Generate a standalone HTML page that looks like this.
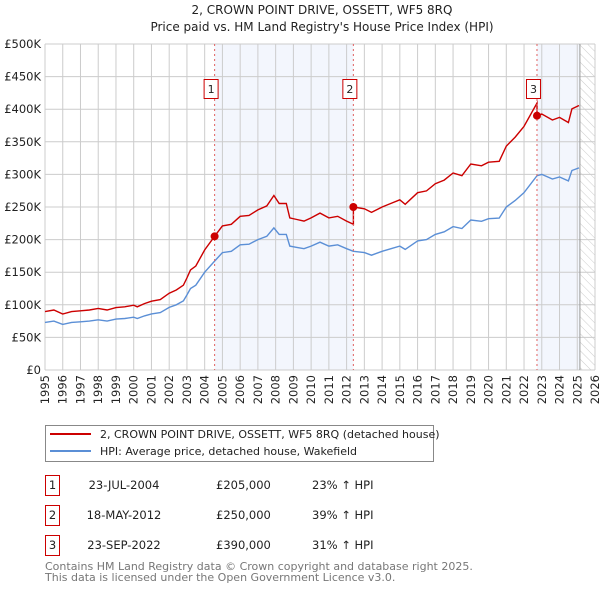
<!DOCTYPE html>
<html><head><meta charset="utf-8"><style>
body{margin:0;background:#fff;font-family:"Liberation Sans","DejaVu Sans",sans-serif;}
svg text{font-family:"DejaVu Sans","Liberation Sans",sans-serif;}
</style></head><body>
<svg id="c" width="600" height="590" xmlns="http://www.w3.org/2000/svg">
<text x="322" y="14" text-anchor="middle" font-size="12" fill="#222">2, CROWN POINT DRIVE, OSSETT, WF5 8RQ</text>
<text x="322" y="31" text-anchor="middle" font-size="12" fill="#222">Price paid vs. HM Land Registry's House Price Index (HPI)</text>
<defs><pattern id="h" width="6" height="6" patternUnits="userSpaceOnUse" patternTransform="rotate(-45)"><line x1="0" y1="0" x2="0" y2="6" stroke="#ccc" stroke-width="1"/></pattern></defs>
<g id="bg"></g><g id="grid"></g><g id="lines"></g><g id="marks"></g><g id="axes"></g>
<g>
<rect x="45.5" y="425.5" width="388" height="36" fill="#fff" stroke="#888"/>
<line x1="50" y1="434" x2="91" y2="434" stroke="#cc0000" stroke-width="2"/>
<text x="100" y="438" font-size="11" fill="#222">2, CROWN POINT DRIVE, OSSETT, WF5 8RQ (detached house)</text>
<line x1="50" y1="451" x2="91" y2="451" stroke="#5b8fd6" stroke-width="2"/>
<text x="100" y="455" font-size="11" fill="#222">HPI: Average price, detached house, Wakefield</text>
</g>
<g id="table" font-size="11.5" fill="#222"></g>
<text x="45" y="570" font-size="11" fill="#777">Contains HM Land Registry data © Crown copyright and database right 2025.</text>
<text x="45" y="581" font-size="11" fill="#777">This data is licensed under the Open Government Licence v3.0.</text>
</svg>
<script>
const hpiYears=[1995,1995.5,1996,1996.5,1997,1997.5,1998,1998.5,1999,1999.5,2000,2000.2,2000.6,2001,2001.5,2002,2002.4,2002.8,2003,2003.2,2003.5,2004,2004.56,2005,2005.5,2006,2006.5,2007,2007.5,2007.9,2008.2,2008.6,2008.8,2009.2,2009.6,2010,2010.5,2011,2011.5,2012,2012.38,2013,2013.4,2014,2014.5,2015,2015.3,2016,2016.5,2017,2017.5,2018,2018.5,2019,2019.6,2020,2020.6,2021,2021.5,2022,2022.73,2023,2023.6,2024,2024.5,2024.7,2025.1];
const hpiValues=[73,75,70,73,74,75,77,75,78,79,81,79,83,86,88,96,100,106,115,125,130,150,167,180,182,192,193,200,205,218,208,208,190,188,186,190,196,190,192,186,182,180,176,182,186,190,185,198,200,208,212,220,217,230,228,232,233,250,260,272,298,300,293,296,290,306,310];
const saleDates=[2004.56,2012.38,2022.73];
const salePrices=[205000,250000,390000];
const saleLabels=["1","2","3"];
const saleDateText=["23-JUL-2004","18-MAY-2012","23-SEP-2022"];
const salePriceText=["£205,000","£250,000","£390,000"];
const saleDiffText=["23% ↑ HPI","39% ↑ HPI","31% ↑ HPI"];
const yTicks=[0,50000,100000,150000,200000,250000,300000,350000,400000,450000,500000];
const yTickLabels=["£0","£50K","£100K","£150K","£200K","£250K","£300K","£350K","£400K","£450K","£500K"];
const xTicks=[1995,1996,1997,1998,1999,2000,2001,2002,2003,2004,2005,2006,2007,2008,2009,2010,2011,2012,2013,2014,2015,2016,2017,2018,2019,2020,2021,2022,2023,2024,2025,2026];
const dataEnd=2025.15;
const NS="http://www.w3.org/2000/svg";
const X0=45,X1=595,Y0=370,Y1=44;
const xs=v=>X0+(v-1995)/(2026-1995)*(X1-X0);
const ys=v=>Y0-v/500000*(Y0-Y1);
function mk(p,t,a){const e=document.createElementNS(NS,t);for(const k in a)e.setAttribute(k,a[k]);p.appendChild(e);return e;}
const bg=document.getElementById('bg'),grid=document.getElementById('grid'),lines=document.getElementById('lines'),marks=document.getElementById('marks'),axes=document.getElementById('axes'),table=document.getElementById('table');
for(let i=0;i<saleDates.length;i++){
 const s=saleDates[i],e=i+1<saleDates.length?saleDates[i+1]:dataEnd;
 if(i===1)continue;
 const r=mk(bg,'rect',{x:xs(s),y:Y1,width:xs(e)-xs(s),height:Y0-Y1,fill:'#f3f6fd'});
 
 
}
const hr=mk(bg,'rect',{x:xs(dataEnd),y:Y1,width:X1-xs(dataEnd),height:Y0-Y1,fill:'url(#h)'});


yTicks.forEach((v,i)=>{
 mk(grid,'line',{x1:X0,x2:X1,y1:ys(v),y2:ys(v),stroke:'#ccc','stroke-width':1});
 const t=mk(axes,'text',{x:X0-4,y:ys(v)+4,'text-anchor':'end','font-size':11.5,fill:'#222'});t.textContent=yTickLabels[i];
 
 
});
xTicks.forEach(v=>{
 mk(grid,'line',{x1:xs(v),x2:xs(v),y1:Y1,y2:Y0,stroke:'#ccc','stroke-width':1});
 const t=mk(axes,'text',{x:xs(v)+4,y:Y0+5,'text-anchor':'end','font-size':11.5,fill:'#222',transform:`rotate(-90 ${xs(v)+4} ${Y0+5})`});t.textContent=v;
 
 
});
mk(grid,'line',{x1:xs(dataEnd),x2:xs(dataEnd),y1:Y1,y2:Y0,stroke:'#999','stroke-width':1});
function hpiAt(d){for(let i=1;i<hpiYears.length;i++){if(d<=hpiYears[i]){const f=(d-hpiYears[i-1])/(hpiYears[i]-hpiYears[i-1]);return hpiValues[i-1]+f*(hpiValues[i]-hpiValues[i-1]);}}return hpiValues[hpiValues.length-1];}
const factors=saleDates.map((d,i)=>salePrices[i]/(hpiAt(d)*1000));
function factorAt(y){let f=factors[0];for(let i=0;i<saleDates.length;i++)if(y>=saleDates[i])f=factors[i];return f;}
let pb='',pr='';
hpiYears.forEach((y,i)=>{pb+=(i?'L':'M')+xs(y).toFixed(1)+' '+ys(hpiValues[i]*1000).toFixed(1);});
let first=true;
hpiYears.forEach((y,i)=>{
 saleDates.forEach((d,k)=>{if(k>0&&d>hpiYears[i-1]&&d<=y){pr+='L'+xs(d).toFixed(1)+' '+ys(hpiAt(d)*1000*factors[k-1]).toFixed(1)+'L'+xs(d).toFixed(1)+' '+ys(salePrices[k]).toFixed(1);}});
 pr+=(first?'M':'L')+xs(y).toFixed(1)+' '+ys(hpiValues[i]*1000*factorAt(y)).toFixed(1);first=false;
});
const lb=mk(lines,'path',{d:pb,fill:'none',stroke:'#5b8fd6','stroke-width':1.4});


const lr=mk(lines,'path',{d:pr,fill:'none',stroke:'#cc0000','stroke-width':1.4});


saleDates.forEach((d,i)=>{
 mk(marks,'line',{x1:xs(d),x2:xs(d),y1:Y1,y2:Y0,stroke:'#e06060','stroke-width':1,'stroke-dasharray':'2,3'});
 const c=mk(marks,'circle',{cx:xs(d),cy:ys(salePrices[i]),r:4,fill:'#cc0000'});
 
 
 const g=mk(marks,'g',{});
 
 
 mk(g,'rect',{x:xs(d)-10.5,y:79.5,width:14,height:19,fill:'#fff',stroke:'#cc0000'});
 const t=mk(g,'text',{x:xs(d)-3.5,y:93,'text-anchor':'middle','font-size':11,fill:'#222'});t.textContent=saleLabels[i];
 const ty=485+i*30;
 const r=mk(table,'g',{});
 
 
 mk(r,'rect',{x:45.5,y:ty-9.5,width:14,height:20,fill:'#fff',stroke:'#cc0000'});
 const a=mk(r,'text',{x:52.5,y:ty+4,'text-anchor':'middle'});a.textContent=saleLabels[i];
 const b=mk(r,'text',{x:124,y:ty+4,'text-anchor':'middle'});b.textContent=saleDateText[i];
 const c2=mk(r,'text',{x:216,y:ty+4});c2.textContent=salePriceText[i];
 const e=mk(r,'text',{x:312,y:ty+4});e.textContent=saleDiffText[i];
});
</script>
</body></html>
